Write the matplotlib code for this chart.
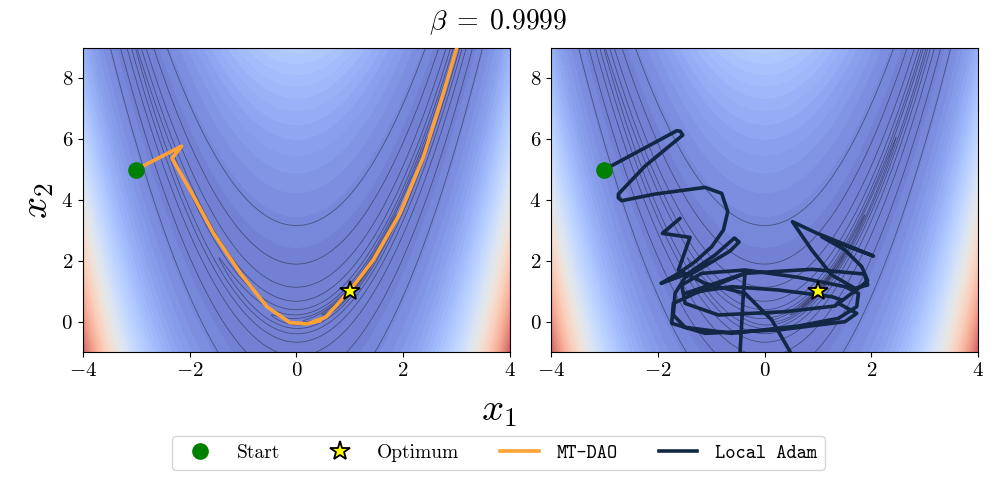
import numpy as np
import matplotlib
matplotlib.use("Agg")
from matplotlib import pyplot as plt
from matplotlib.lines import Line2D
from matplotlib.colors import ListedColormap

plt.rcParams['font.family'] = 'serif'
plt.rcParams['font.serif'] = ['cmr10']
plt.rcParams['mathtext.fontset'] = 'cm'
plt.rcParams['axes.formatter.use_mathtext'] = True

# Start / optimum
start = (-3.0, 5.0)
optimum = (1.0, 1.0)

# MT-DAO trajectory
mtdao_x = [-3.0, -2.15, -2.33, -1.99, -1.55, -1.05, -0.55, -0.12, 0.2, 0.45, 0.3, 0.55,
           1.0, 1.44, 1.94, 2.38, 2.75, 3.02]
mtdao_y = [5.0, 5.77, 5.37, 4.33, 2.9, 1.59, 0.49, -0.03, -0.07, 0.04, -0.01, 0.15,
           1.02, 2.03, 3.56, 5.42, 7.5, 9.1]

# Local Adam trajectory
adam_x = [-3.0, -1.646, -1.58, -1.534, -2.239, -2.739, -2.74, -2.676, -2.052, -1.116, -0.804, -0.691,
          -0.772, -0.991, -1.303, -1.615, -1.94, -1.428, -0.928, -0.566, -0.479, -0.648,
          -1.116, -1.49, -1.678, -1.709, -1.49, -0.616, 0.632, 1.381, 1.724, 1.756,
          1.506, 0.632, -0.367, -1.178, -1.553, -1.49, -0.866, 0.382, 1.319, 1.444,
          1.256, 0.258, -0.616, -1.49, -0.367, 0.882, 1.868, 1.93, 1.693, 1.256,
          0.882, 0.52, 0.957, 2.037, 1.069, 1.506, 1.818, 1.93, 1.756, 1.381,
          1.724, 1.506, 0.258, -1.116, -1.74, -1.709, -1.303, -0.367, -0.398, -0.46,
          -0.242, 0.258, 0.476, 0.133, -0.367, -1.116, -1.615, -1.397, -1.915, -1.584]
adam_y = [5.0, 6.277, 6.26, 6.135, 5.116, 4.196, 4.07, 3.977, 4.196, 4.415, 4.218, 3.616,
          3.013, 2.465, 1.973, 1.589, 1.26, 1.589, 2.192, 2.75, 2.619, 2.323,
          1.83, 1.458, 0.932, 0.22, -0.185, -0.383, -0.142, 0.11, 0.494, 0.932,
          1.151, 1.458, 1.699, 1.589, 1.206, 0.603, 0.22, 0.329, 0.516, 0.713,
          0.822, 1.041, 1.151, 0.932, 1.589, 1.721, 1.567, 1.206, 1.096, 1.534,
          2.356, 3.287, 2.925, 2.159, 2.794, 2.356, 1.808, 1.348, 1.096, 0.603,
          0.275, 0.001, -0.273, -0.383, -0.054, 0.603, 0.932, 1.589, 0.932, -0.985,
          -1.697, -1.697, -0.985, 0.056, 0.932, 1.26, 1.699, 2.772, 2.904, 3.397]

orange = '#ffa133'
navy = '#112845'

# coolwarm at ~70% opacity over white, pre-blended so the filled bands have no seams
base = plt.get_cmap('coolwarm')(np.linspace(0, 1, 256))[:, :3]
soft_cmap = ListedColormap(base * 0.72 + 0.28)

# Rosenbrock surface
xs = np.linspace(-4, 4, 900)
ys = np.linspace(-1, 9, 900)
X, Y = np.meshgrid(xs, ys)
Z = (1 - X)**2 + 100 * (Y - X**2)**2

fig = plt.figure(figsize=(9.97, 4.83), dpi=100)
ax1 = fig.add_axes([0.083, 0.271, 0.4285, 0.6298])
ax2 = fig.add_axes([0.5527, 0.271, 0.4285, 0.6298])

for ax, tx, ty, c in [(ax1, mtdao_x, mtdao_y, orange), (ax2, adam_x, adam_y, navy)]:
    ax.contourf(X, Y, Z, levels=50, cmap=soft_cmap, antialiased=False)
    ax.contour(X, Y, Z, levels=np.logspace(-1, 3, 10), colors='black',
               linewidths=0.6, alpha=0.4)
    ax.plot(tx, ty, color=c, lw=2.6, solid_joinstyle='round', solid_capstyle='round',
            zorder=3)
    ax.plot(*start, 'o', color='green', markersize=11, zorder=4)
    ax.plot(*optimum, '*', color='yellow', markeredgecolor='black',
            markeredgewidth=1.3, markersize=15, zorder=5)
    ax.set_xlim(-4, 4)
    ax.set_ylim(-1, 9)
    ax.set_xticks([-4, -2, 0, 2, 4])
    ax.set_yticks([0, 2, 4, 6, 8])
    ax.tick_params(labelsize=15)

fig.suptitle(r'$\beta\;=\;0.9999$', fontsize=20, y=0.985)
fig.text(0.5, 0.148, r'$x_1$', fontsize=28, ha='center', va='center')
fig.text(0.038, 0.585, r'$x_2$', fontsize=28, ha='center', va='center', rotation=90)

handles = [
    Line2D([], [], marker='o', color='green', linestyle='none', markersize=11),
    Line2D([], [], marker='*', color='yellow', markeredgecolor='black',
           markeredgewidth=1.3, linestyle='none', markersize=15),
    Line2D([], [], color=orange, lw=2.6),
    Line2D([], [], color=navy, lw=2.6),
]
leg = fig.legend(handles, ['Start', 'Optimum', 'MT-DAO', 'Local Adam'],
                 loc='center', bbox_to_anchor=(0.5, 0.062), ncol=4, fontsize=14,
                 handlelength=2.0, columnspacing=2.1, handletextpad=0.9)
for t in leg.get_texts()[2:]:
    t.set_family('cmtt10')

fig.savefig('out.png', dpi=100)
